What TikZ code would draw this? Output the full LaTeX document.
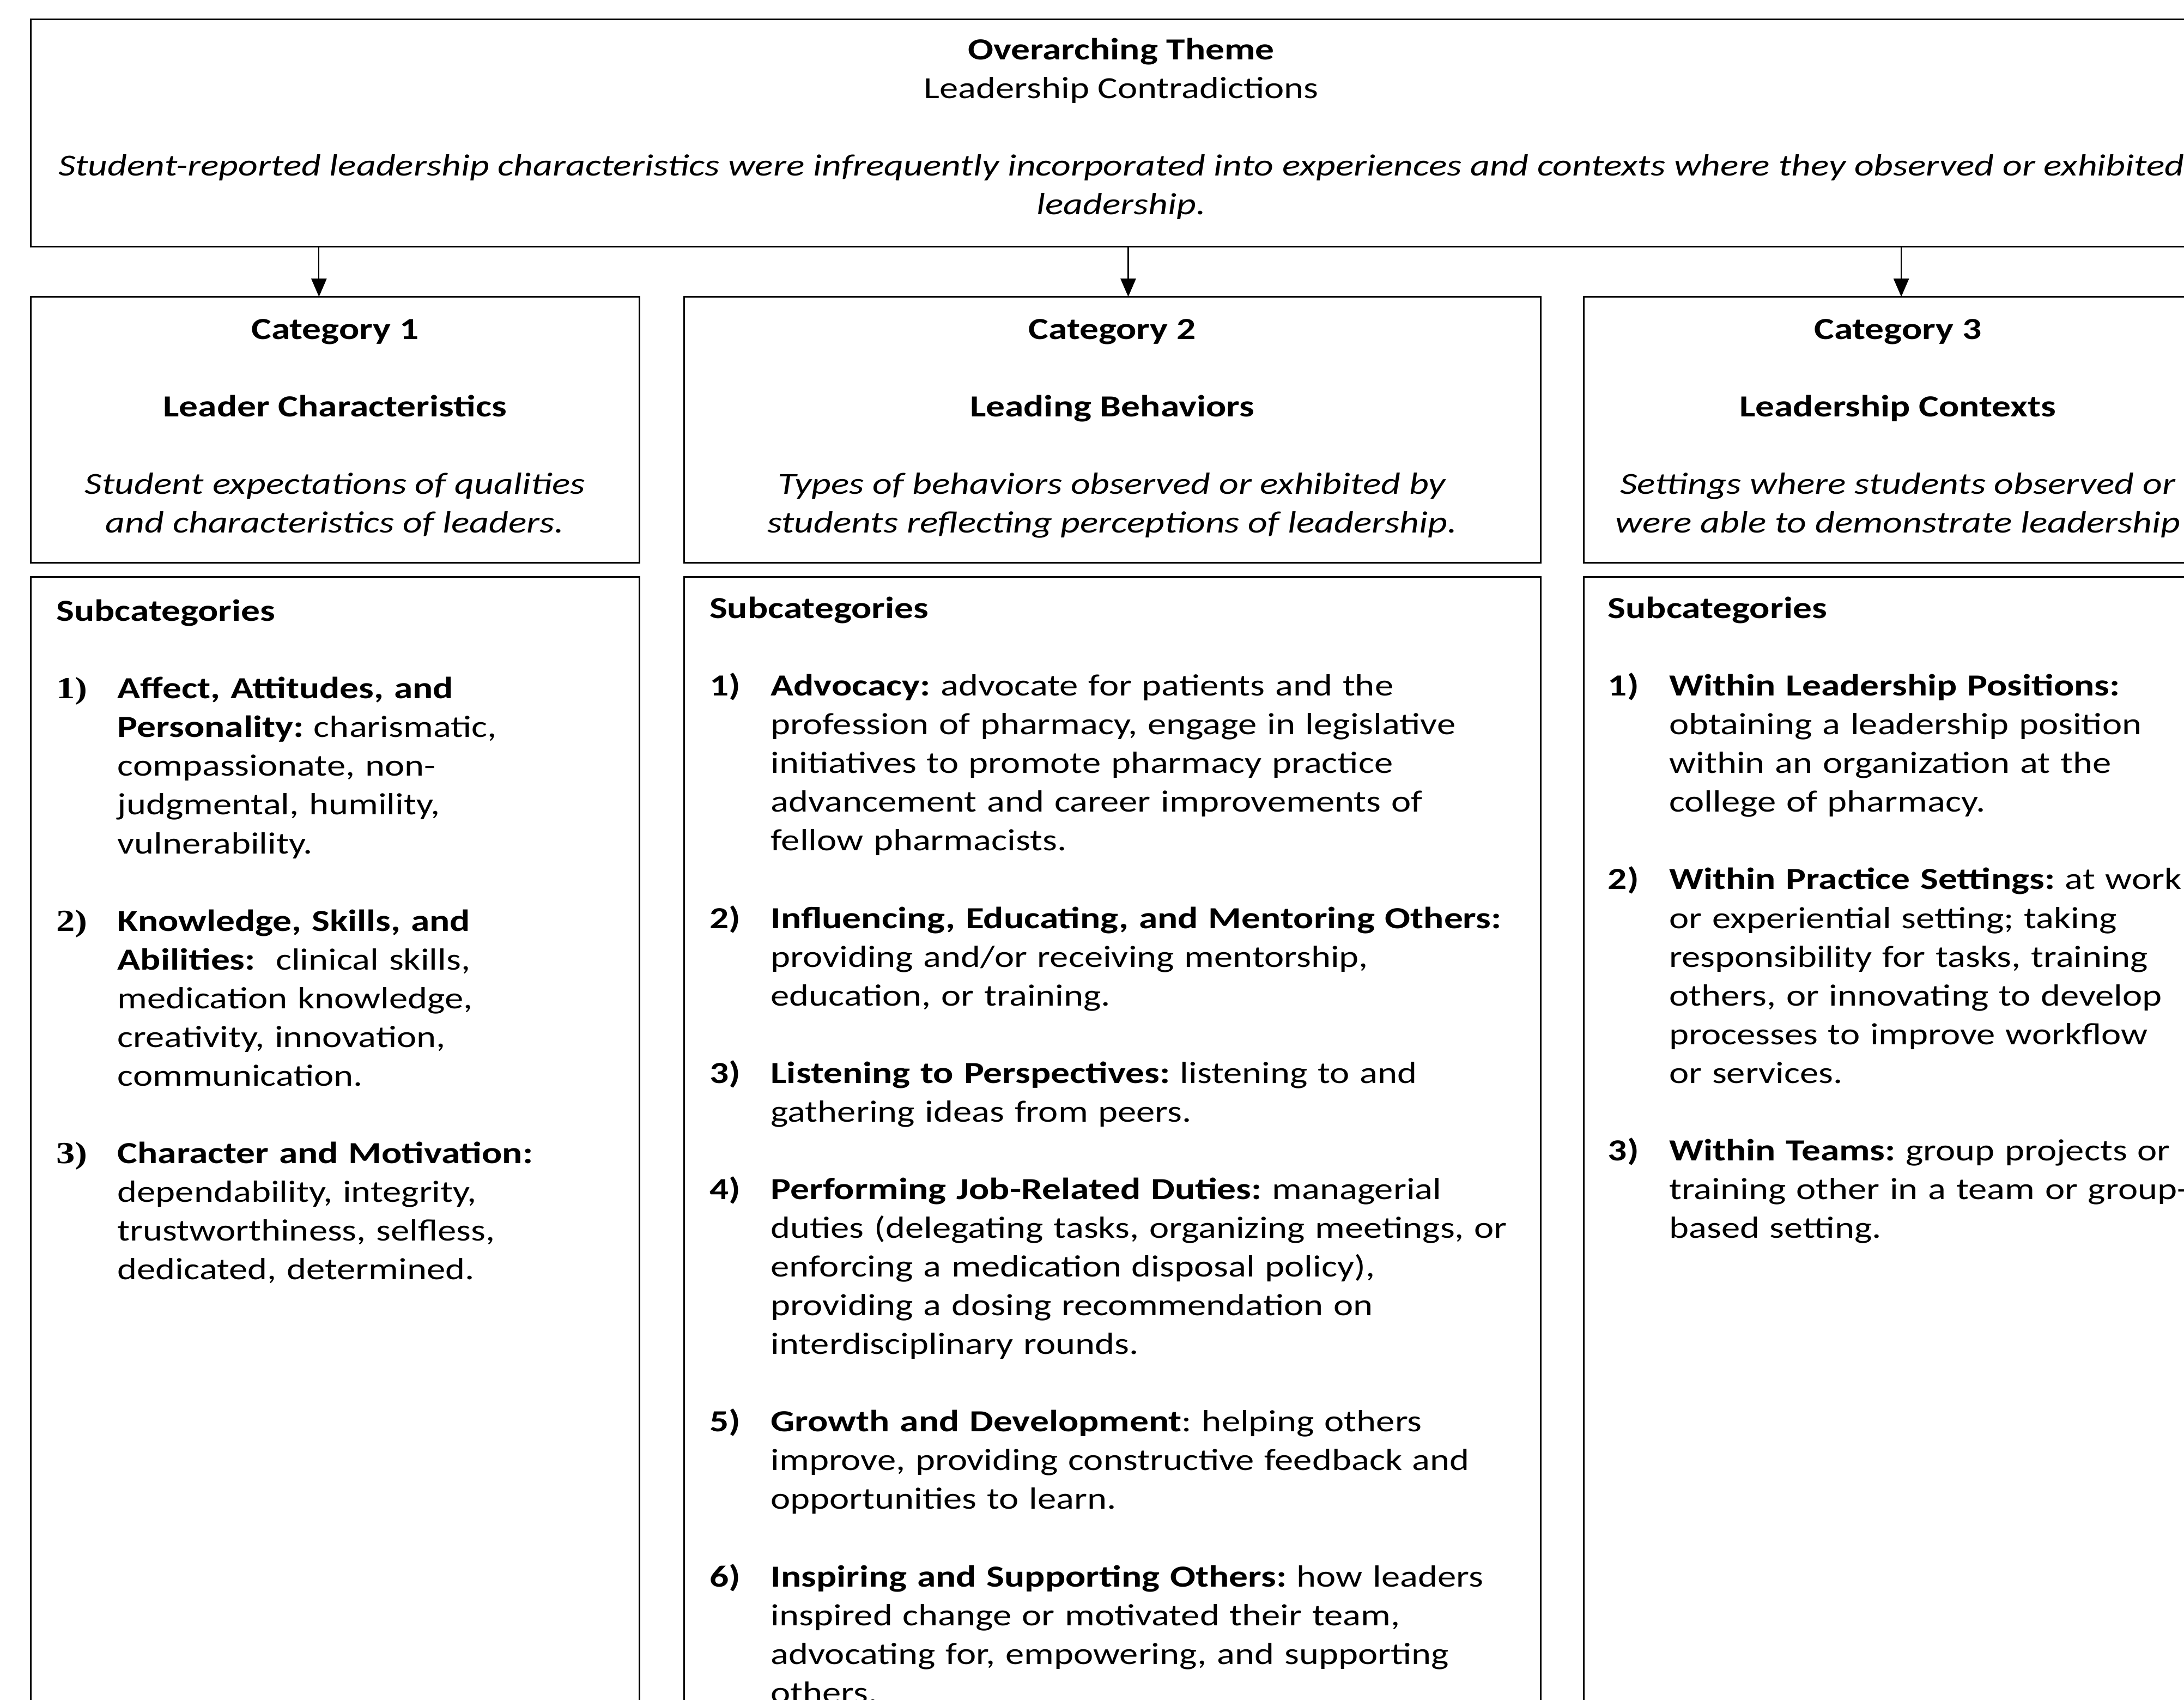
\documentclass[tikz,border=0pt]{standalone}
\usepackage{fontspec}
\setmainfont{Carlito}[FakeStretch=1.22,
    BoldFeatures={FakeStretch=1.235},
    ItalicFeatures={FakeStretch=1.24}]
\newfontfamily\numfont{Liberation Serif}[FakeStretch=1.22]
\usetikzlibrary{positioning, arrows.meta}

\setlength{\parskip}{0pt}
\frenchspacing
% one numbered subcategory, hanging text
\newcommand{\sitem}[2]{\par\hangindent=22pt\hangafter=1\noindent\makebox[22pt][l]{#1}#2\par}
\newcommand{\sgap}{\vskip\baselineskip}

\begin{document}
\begin{tikzpicture}[
    x=0.5pt, y=-0.5pt,
    every node/.style={font=\fontsize{11}{13.9}\selectfont},
    >={Triangle[length=6.5pt, width=5.5pt]},
    box/.style={draw, line width=0.6pt, inner sep=0pt, outer sep=0pt, anchor=north west},
    arr/.style={->, line width=0.4pt},
    headtext/.style={inner sep=0pt, align=center, anchor=north},
    listtext/.style={inner sep=0pt, align=left, anchor=north west},
]
\useasboundingbox (0,0) rectangle (1568,1220);

% === Overarching theme ===
\node[box, minimum width=783pt, minimum height=81.5pt] (theme) at (22,14) {};
\node[headtext, below=4.5pt of theme.north] (themetxt)
    {\strut\textbf{Overarching Theme}\\
     Leadership Contradictions\\[13.9pt]
     \textit{Student-reported leadership characteristics were infrequently incorporated into experiences and contexts where they observed or exhibited}\\
     \textit{leadership.}};

% === Category boxes ===
\node[box, minimum width=218.5pt, minimum height=95.5pt] (cat1) at (22,213) {};
\node[box, minimum width=307.5pt, minimum height=95.5pt] (cat2) at (491,213) {};
\node[box, minimum width=225.5pt, minimum height=95.5pt] (cat3) at (1137,213) {};

\node[headtext, below=5.25pt of cat1.north] (cat1txt)
    {\strut\textbf{Category 1}\\[13.9pt]
     \textbf{Leader Characteristics}\\[13.9pt]
     \textit{Student expectations of qualities}\\
     \textit{and characteristics of leaders.}};
\node[headtext, below=5.25pt of cat2.north] (cat2txt)
    {\strut\textbf{Category 2}\\[13.9pt]
     \textbf{Leading Behaviors}\\[13.9pt]
     \textit{Types of behaviors observed or exhibited by}\\
     \textit{students reflecting perceptions of leadership.}};
\node[headtext, below=5.25pt of cat3.north] (cat3txt)
    {\strut\textbf{Category 3}\\[13.9pt]
     \textbf{Leadership Contexts}\\[13.9pt]
     \textit{Settings where students observed or}\\
     \textit{were able to demonstrate leadership}};

% === Arrows theme -> categories ===
\coordinate (a1) at (229,0);
\coordinate (a2) at (810,0);
\coordinate (a3) at (1365,0);
\draw[arr] (a1 |- theme.south) -- (a1 |- cat1.north);
\draw[arr] (a2 |- theme.south) -- (a2 |- cat2.north);
\draw[arr] (a3 |- theme.south) -- (a3 |- cat3.north);

% === Subcategory boxes ===
\node[box, minimum width=218.5pt, minimum height=410pt] (sub1) at (22,414) {};
\node[box, minimum width=307.5pt, minimum height=410pt] (sub2) at (491,414) {};
\node[box, minimum width=225.5pt, minimum height=410pt] (sub3) at (1137,414) {};

% Category 1 list
\node[listtext, text width=200pt] (list1) at ([xshift=9pt, yshift=-6pt]sub1.north west)
    {\strut\textbf{Subcategories}\par\sgap
     \sitem{\numfont\bfseries 1)}{\textbf{Affect, Attitudes, and}\newline
        \textbf{Personality:} charismatic,\newline
        compassionate, non-\newline
        judgmental, humility,\newline
        vulnerability.}\sgap
     \sitem{\numfont\bfseries 2)}{\textbf{Knowledge, Skills, and}\newline
        \textbf{Abilities:}~ clinical skills,\newline
        medication knowledge,\newline
        creativity, innovation,\newline
        communication.}\sgap
     \sitem{\numfont\bfseries 3)}{\textbf{Character and Motivation:}\newline
        dependability, integrity,\newline
        trustworthiness, selfless,\newline
        dedicated, determined.}};

% Category 2 list
\node[listtext, text width=290pt] (list2) at ([xshift=9pt, yshift=-5pt]sub2.north west)
    {\strut\textbf{Subcategories}\par\sgap
     \sitem{\textbf{1)}}{\textbf{Advocacy:} advocate for patients and the\newline
        profession of pharmacy, engage in legislative\newline
        initiatives to promote pharmacy practice\newline
        advancement and career improvements of\newline
        fellow pharmacists.}\sgap
     \sitem{\textbf{2)}}{\textbf{Influencing, Educating, and Mentoring Others:}\newline
        providing and/or receiving mentorship,\newline
        education, or training.}\sgap
     \sitem{\textbf{3)}}{\textbf{Listening to Perspectives:} listening to and\newline
        gathering ideas from peers.}\sgap
     \sitem{\textbf{4)}}{\textbf{Performing Job-Related Duties:} managerial\newline
        duties (delegating tasks, organizing meetings, or\newline
        enforcing a medication disposal policy),\newline
        providing a dosing recommendation on\newline
        interdisciplinary rounds.}\sgap
     \sitem{\textbf{5)}}{\textbf{Growth and Development}: helping others\newline
        improve, providing constructive feedback and\newline
        opportunities to learn.}\sgap
     \sitem{\textbf{6)}}{\textbf{Inspiring and Supporting Others:} how leaders\newline
        inspired change or motivated their team,\newline
        advocating for, empowering, and supporting\newline
        others.}};

% Category 3 list
\node[listtext, text width=212pt] (list3) at ([xshift=8.5pt, yshift=-5pt]sub3.north west)
    {\strut\textbf{Subcategories}\par\sgap
     \sitem{\textbf{1)}}{\textbf{Within Leadership Positions:}\newline
        obtaining a leadership position\newline
        within an organization at the\newline
        college of pharmacy.}\sgap
     \sitem{\textbf{2)}}{\textbf{Within Practice Settings:} at work\newline
        or experiential setting; taking\newline
        responsibility for tasks, training\newline
        others, or innovating to develop\newline
        processes to improve workflow\newline
        or services.}\sgap
     \sitem{\textbf{3)}}{\textbf{Within Teams:} group projects or\newline
        training other in a team or group-\newline
        based setting.}};

\end{tikzpicture}
\end{document}
